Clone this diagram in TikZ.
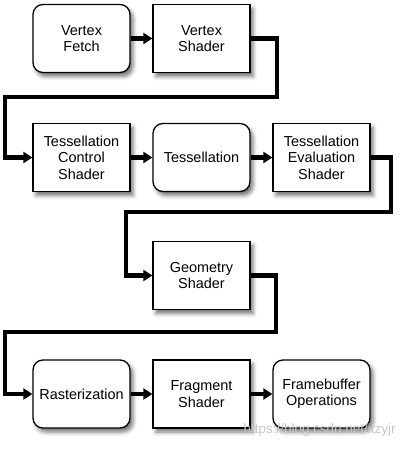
\documentclass[tikz,border=0pt]{standalone}
\usepackage{fontspec}
\setmainfont{Liberation Sans}
\usetikzlibrary{shadows.blur,arrows.meta}
\tikzset{
  stage/.style={draw=black,line width=1.3bp,fill=white,minimum width=97bp,minimum height=68bp,
    align=center,inner sep=2bp,font=\fontsize{14.5}{16.5}\selectfont,
    blur shadow={shadow xshift=3bp,shadow yshift=-4bp,shadow blur radius=4bp,shadow opacity=55}},
  fixed/.style={stage},
  prog/.style={stage,rounded corners=10bp},
  flow/.style={line width=4.5bp,-{Triangle[length=9bp,width=11bp]}},
}
\begin{document}
\begin{tikzpicture}[x=1bp,y=-1bp]
\useasboundingbox (0,0) rectangle (400,449);
% row 1
\node[prog]  (vf)  at (81.5,38.5) {Vertex\\Fetch};
\node[fixed] (vs)  at (201.5,38.5) {Vertex\\Shader};
% row 2
\node[fixed] (tcs) at (81.5,157.5) {Tessellation\\Control\\Shader};
\node[prog]  (tes) at (201.5,157.5) {Tessellation};
\node[fixed] (tev) at (321.5,157.5) {Tessellation\\Evaluation\\Shader};
% row 3
\node[fixed] (gs)  at (201.5,275.5) {Geometry\\Shader};
% row 4
\node[prog]  (ras) at (81.5,394) {Rasterization};
\node[fixed] (fs)  at (201.5,394) {Fragment\\Shader};
\node[prog]  (fb)  at (321.5,394) {Framebuffer\\Operations};
% corner coordinates
\coordinate (a1) at (277,38.5);
\coordinate (a2) at (277,97);
\coordinate (a3) at (5,97);
\coordinate (b1) at (391,157.5);
\coordinate (b2) at (391,212);
\coordinate (b3) at (126,212);
\coordinate (c1) at (276,275.5);
\coordinate (c2) at (276,332);
\coordinate (c3) at (5,332);
% connectors
\draw[flow] (vf) -- (vs);
\draw[flow] (vs.east) -- (a1) -- (a2) -- (a3) -- (a3 |- tcs.west) -- (tcs.west);
\draw[flow] (tcs) -- (tes);
\draw[flow] (tes) -- (tev);
\draw[flow] (tev.east) -- (b1) -- (b2) -- (b3) -- (b3 |- gs.west) -- (gs.west);
\draw[flow] (gs.east) -- (c1) -- (c2) -- (c3) -- (c3 |- ras.west) -- (ras.west);
\draw[flow] (ras) -- (fs);
\draw[flow] (fs) -- (fb);
% watermark
\node[text=gray!45,font=\fontsize{13.5}{15}\selectfont,anchor=east] (wm) at (399,430) {https://blog.csdn.net/itzyjr};
\end{tikzpicture}
\end{document}
